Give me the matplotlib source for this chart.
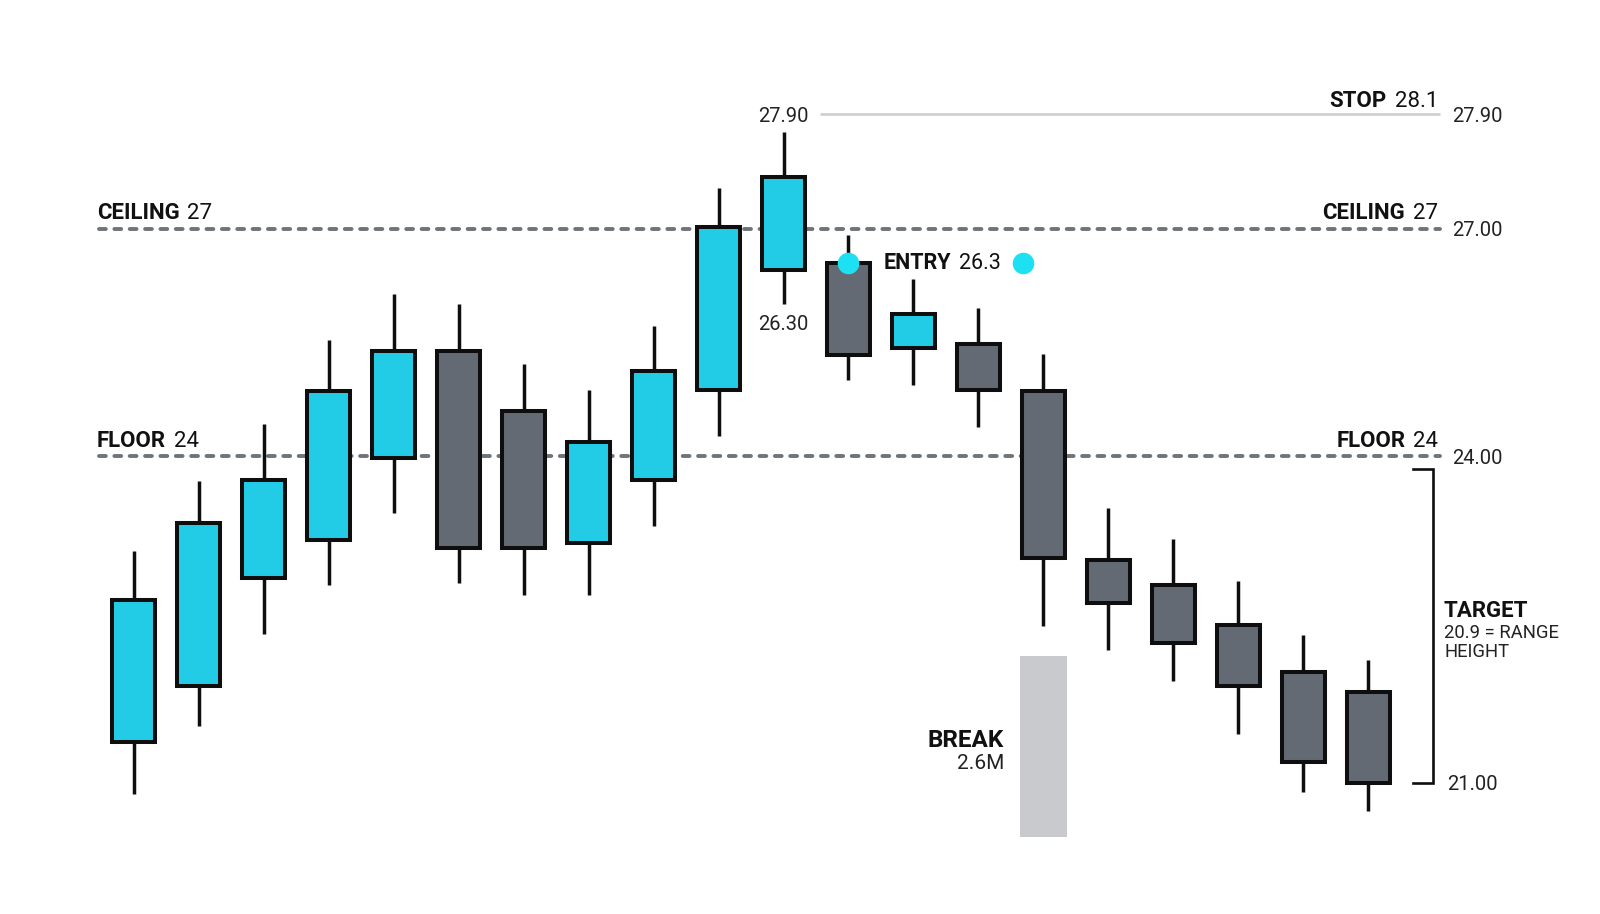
import numpy as np
import matplotlib
matplotlib.use("Agg")
import matplotlib.pyplot as plt

# ---------------- data ----------------
opens  = [21.37, 21.89, 22.88, 23.23, 23.98, 25.39, 24.59, 23.20, 23.78, 24.87,
          26.46, 26.54, 25.43, 25.48, 24.86, 23.05, 22.82, 22.45, 22.02, 21.83]
highs  = [23.13, 23.77, 24.42, 25.53, 26.14, 26.00, 25.21, 24.87, 25.71, 27.32,
          27.76, 26.91, 26.33, 25.95, 25.35, 23.52, 23.24, 22.85, 22.36, 22.13]
lows   = [20.90, 21.52, 22.37, 22.82, 23.48, 22.83, 22.72, 22.72, 23.36, 24.27,
          26.00, 25.01, 24.94, 24.39, 22.44, 22.22, 21.93, 21.45, 20.91, 20.74]
closes = [22.68, 23.39, 23.78, 24.86, 25.39, 23.16, 23.16, 24.19, 25.12, 27.01,
          27.41, 25.33, 25.88, 24.87, 23.06, 22.65, 22.28, 21.89, 21.19, 21.00]

ceiling = 27.0
floor_level = 24.0
stop_line = 27.9
stop_label = "28.1"
entry_label = "26.3"
entry_marker = 26.55
entry_index = 11
peak_index = 10
peak_high_label = "27.90"
peak_low_label = "26.30"
break_index = 14
break_volume = 2.6
break_volume_label = "2.6M"
target_bottom = 21.0
bracket_top = 23.88
target_lines = ["20.9 = RANGE", "HEIGHT"]
tick_prices = [27.9, 27.0, 24.0, 21.0]
tick_labels = ["27.90", "27.00", "24.00", "21.00"]

# ---------------- style ----------------
BULL = "#22CCE7"
BEAR = "#646A74"
EDGE = "#0E0E0E"
DASH = "#6F737A"
STOPC = "#D0D0D0"
DOT = "#1DE1F3"
VOL = "#C9CACE"
TXT = "#111111"
TXT2 = "#222222"

plt.rcParams["font.family"] = ["Roboto", "DejaVu Sans"]

W, H = 1600, 914
fig = plt.figure(figsize=(16, 9.14), dpi=100)
fig.patch.set_facecolor("white")

# horizontal layout: candle i centred at X0 + i*DX pixels
X0, DX = 133.6, 64.99
def px_x(px):
    return (px - X0) / DX

# stylised (piecewise-linear) price scale, pixel rows measured from top
KP = np.array([21.0, 24.0, 27.0, 27.9])
KV = -np.array([782.7, 456.1, 228.6, 114.3])

def _pw(x, xs, ys):
    x = np.asarray(x, dtype=float)
    y = np.interp(x, xs, ys)
    s0 = (ys[1] - ys[0]) / (xs[1] - xs[0])
    s1 = (ys[-1] - ys[-2]) / (xs[-1] - xs[-2])
    y = np.where(x < xs[0], ys[0] + (x - xs[0]) * s0, y)
    y = np.where(x > xs[-1], ys[-1] + (x - xs[-1]) * s1, y)
    return y

def fwd(p):
    return _pw(p, KP, KV)

def inv(v):
    return _pw(v, KV, KP)

def py_p(py):
    return float(inv(-py))

# volume axes (behind)
axv = fig.add_axes([0, 0, 1, 1])
axv.set_xlim(-X0 / DX, (W - X0) / DX)
kvol = (836.7 - 656.1) / break_volume
axv.set_ylim(-(H - 836.7) / kvol, 836.7 / kvol)
axv.axis("off")
axv.bar([break_index], [break_volume], width=0.735, color=VOL, zorder=1)

ax = fig.add_axes([0, 0, 1, 1])
ax.patch.set_alpha(0)
ax.set_yscale("function", functions=(fwd, inv))
ax.set_xlim(-X0 / DX, (W - X0) / DX)
ax.set_ylim(py_p(H), py_p(0))
ax.axis("off")

xs = np.arange(len(opens))
o = np.array(opens); c = np.array(closes)
bull = c >= o

# level lines
xl, xr = px_x(99), px_x(1440)
dash_ls = (0, (1.75, 2.2))
for lvl in (ceiling, floor_level):
    ax.plot([xl, xr], [lvl, lvl], color=DASH, lw=2.8, linestyle=dash_ls,
            dash_capstyle="round", zorder=2)
ax.plot([px_x(820), xr], [stop_line, stop_line], color=STOPC, lw=2.0,
        solid_capstyle="butt", zorder=2)

# candles
ax.vlines(xs, lows, highs, color=EDGE, lw=2.5, zorder=3)
body_b = np.minimum(o, c)
body_h = np.abs(c - o)
ax.bar(xs, body_h, bottom=body_b, width=0.655,
       color=[BULL if b else BEAR for b in bull],
       edgecolor=EDGE, linewidth=2.9, zorder=4)

# entry dots
ax.plot([entry_index, px_x(1023)], [entry_marker, entry_marker], linestyle="none",
        marker="o", ms=14.5, color=DOT, zorder=6)

# mixed-weight labels
def split_label(bold, reg, x, y, ha, dy, size=16, gap=5.5):
    if ha == "left":
        t1 = ax.annotate(bold, (x, y), xytext=(0, dy), textcoords="offset points",
                         ha="left", va="baseline", fontsize=size,
                         fontweight="bold", color=TXT, zorder=7)
        ax.annotate(reg, (1, 0), xycoords=t1, xytext=(gap, 0),
                    textcoords="offset points", ha="left", va="bottom",
                    fontsize=size, color=TXT, zorder=7)
    else:
        t1 = ax.annotate(reg, (x, y), xytext=(0, dy), textcoords="offset points",
                         ha="right", va="baseline", fontsize=size, color=TXT,
                         zorder=7)
        ax.annotate(bold, (0, 0), xycoords=t1, xytext=(-gap, 0),
                    textcoords="offset points", ha="right", va="bottom",
                    fontsize=size, fontweight="bold", color=TXT, zorder=7)

split_label("CEILING", "27", px_x(97), ceiling, "left", 6.7)
split_label("FLOOR", "24", px_x(97), floor_level, "left", 6.7)
split_label("CEILING", "27", px_x(1438), ceiling, "right", 6.7)
split_label("FLOOR", "24", px_x(1438), floor_level, "right", 6.7)
split_label("STOP", stop_label, px_x(1438), stop_line, "right", 5.5)

# ENTRY label
split_label("ENTRY", entry_label, px_x(884), py_p(269), "left", 0, size=15.5)

# right price labels
label_px = [1452, 1452, 1452, 1447]
for p, lab, lx in zip(tick_prices, tick_labels, label_px):
    ax.text(px_x(lx), p, lab, ha="left", va="center_baseline",
            fontsize=14.5, color=TXT2)

# peak candle labels
ax.annotate(peak_high_label, (peak_index, highs[peak_index]), xytext=(0, 12.5),
            textcoords="offset points", ha="center", va="center_baseline",
            fontsize=14.5, color=TXT2)
ax.annotate(peak_low_label, (peak_index, lows[peak_index]), xytext=(0, -13.2),
            textcoords="offset points", ha="center", va="center_baseline",
            fontsize=14.5, color=TXT2)

# BREAK label
ax.text(px_x(1004), py_p(746.7), "BREAK", ha="right", va="baseline",
        fontsize=17.5, fontweight="bold", color=TXT)
ax.text(px_x(1004), py_p(768.5), break_volume_label, ha="right", va="baseline",
        fontsize=15, color=TXT2)

# target bracket
bx, btx = px_x(1432.5), px_x(1413)
ax.plot([btx, bx, bx, btx], [bracket_top, bracket_top, target_bottom, target_bottom],
        color=EDGE, lw=1.9, solid_joinstyle="miter", zorder=3)
ax.text(px_x(1444), py_p(617), "TARGET", ha="left", va="baseline",
        fontsize=16, fontweight="bold", color=TXT)
ax.text(px_x(1444), py_p(637.5), target_lines[0], ha="left", va="baseline",
        fontsize=13.3, color=TXT2)
ax.text(px_x(1444), py_p(657), target_lines[1], ha="left", va="baseline",
        fontsize=13.3, color=TXT2)

fig.savefig("out.png", dpi=100, facecolor="white")
